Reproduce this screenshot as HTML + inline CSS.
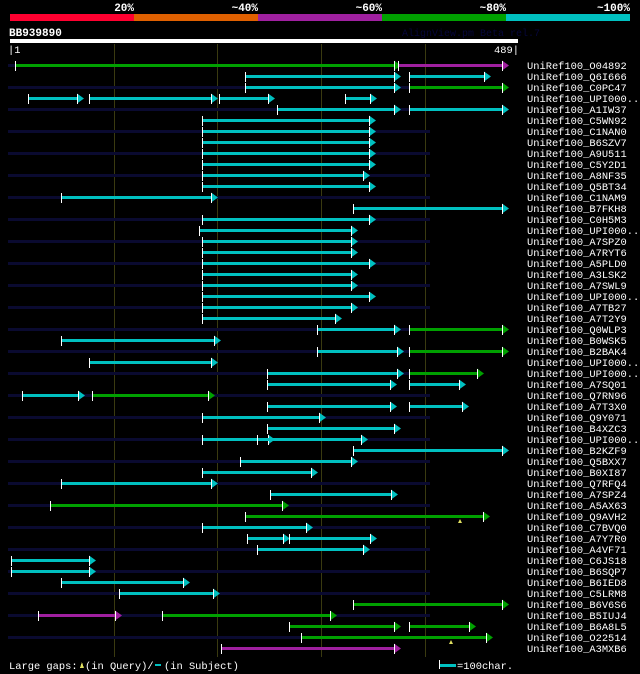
<!DOCTYPE html>
<html><head><meta charset="utf-8"><style>
html,body{margin:0;padding:0;background:#000;width:640px;height:674px;overflow:hidden}
svg{display:block}
text{font-family:"Liberation Mono",monospace;fill:#fff}
</style></head><body>
<svg id="chart" width="640" height="674" xmlns="http://www.w3.org/2000/svg" shape-rendering="crispEdges">
<g>
<rect x="10" y="14" width="124" height="7" fill="#ff0030"/>
<rect x="134" y="14" width="124" height="7" fill="#e06000"/>
<rect x="258" y="14" width="124" height="7" fill="#a020a0"/>
<rect x="382" y="14" width="124" height="7" fill="#00a000"/>
<rect x="506" y="14" width="124" height="7" fill="#00c0c0"/>
<text x="134" y="11" text-anchor="end" font-size="11" font-weight="bold">20%</text>
<text x="258" y="11" text-anchor="end" font-size="11" font-weight="bold">~40%</text>
<text x="382" y="11" text-anchor="end" font-size="11" font-weight="bold">~60%</text>
<text x="506" y="11" text-anchor="end" font-size="11" font-weight="bold">~80%</text>
<text x="630" y="11" text-anchor="end" font-size="11" font-weight="bold">~100%</text>
</g>
<text x="9" y="36" font-size="11" font-weight="bold">BB939890</text>
<text x="402" y="36" font-size="10" style="fill:#06063a">AlignView.pm Beta rel.7</text>
<rect x="10" y="39" width="508" height="4" fill="#fff"/>
<text x="8" y="53" font-size="10.4">|1</text>
<text x="519" y="53" font-size="10.4" text-anchor="end">489|</text>
<g id="grid"></g>
<g id="rows"></g>
<g id="segs"></g>
<g>
<text x="9" y="669" font-size="10.4">Large gaps:</text>
<polygon points="80,668 82,662 84,668" fill="#e0e060"/>
<text x="85" y="669" font-size="10.4">(in Query)/</text>
<rect x="155" y="664" width="6" height="2" fill="#00c0c0"/>
<text x="164" y="669" font-size="10.4">(in Subject)</text>
<rect x="439" y="660" width="1" height="9" fill="#fff"/>
<rect x="440" y="664" width="16" height="3" fill="#00c0c0"/>
<text x="457" y="669" font-size="10.4">=100char.</text>
</g>
</svg>
<script>
const rowNames=["UniRef100_O04892","UniRef100_Q6I666","UniRef100_C0PC47","UniRef100_UPI000..","UniRef100_A1IW37","UniRef100_C5WN92","UniRef100_C1NAN0","UniRef100_B6SZV7","UniRef100_A9U511","UniRef100_C5Y2D1","UniRef100_A8NF35","UniRef100_Q5BT34","UniRef100_C1NAM9","UniRef100_B7FKH8","UniRef100_C0H5M3","UniRef100_UPI000..","UniRef100_A7SPZ0","UniRef100_A7RYT6","UniRef100_A5PLD0","UniRef100_A3LSK2","UniRef100_A7SWL9","UniRef100_UPI000..","UniRef100_A7TB27","UniRef100_A7T2Y9","UniRef100_Q0WLP3","UniRef100_B0WSK5","UniRef100_B2BAK4","UniRef100_UPI000..","UniRef100_UPI000..","UniRef100_A7SQ01","UniRef100_Q7RN96","UniRef100_A7T3X0","UniRef100_Q9Y071","UniRef100_B4XZC3","UniRef100_UPI000..","UniRef100_B2KZF9","UniRef100_Q5BXX7","UniRef100_B0XI87","UniRef100_Q7RFQ4","UniRef100_A7SPZ4","UniRef100_A5AX63","UniRef100_Q9AVH2","UniRef100_C7BVQ0","UniRef100_A7Y7R0","UniRef100_A4VF71","UniRef100_C6JS18","UniRef100_B6SQP7","UniRef100_B6IED8","UniRef100_C5LRM8","UniRef100_B6V6S6","UniRef100_B5IUJ4","UniRef100_B6A8L5","UniRef100_O22514","UniRef100_A3MXB6"];
const gridTicks=[100,200,300,400];
const segRow=[0,0,1,1,2,2,3,3,3,3,4,4,5,6,7,8,9,10,11,12,13,14,15,16,17,18,19,20,21,22,23,24,24,25,26,26,27,28,28,29,29,30,30,31,31,32,33,34,34,35,36,37,38,39,40,41,42,43,43,44,45,46,47,48,49,50,50,51,51,52,53];
const segStart=[5,374,227,385,227,385,17,76,202,323,257,385,185,185,185,185,185,185,185,49,331,185,182,185,185,185,185,185,185,185,185,296,385,49,296,385,76,248,385,248,385,12,79,248,385,185,248,185,238,331,222,185,49,251,39,227,185,229,269,238,1,1,49,105,331,27,147,269,385,281,203];
const segEnd=[370,474,370,457,370,474,65,194,249,347,370,474,346,346,346,346,346,340,346,194,474,346,329,329,329,346,329,329,346,329,313,370,474,197,373,474,194,373,450,366,433,66,191,366,436,298,370,249,338,474,329,290,194,367,262,456,285,263,347,340,76,76,167,196,474,101,309,370,443,459,370];
const segColor=["g","p","c","c","c","g","c","c","c","c","c","c","c","c","c","c","c","c","c","c","c","c","c","c","c","c","c","c","c","c","c","c","g","c","c","g","c","c","g","c","c","c","g","c","c","c","c","c","c","c","c","c","c","c","g","g","c","c","c","c","c","c","c","c","g","p","g","g","g","g","p"];
const gapPos=[434,425];
const gapRow=[41,52];
const colors={c:"#00c0c0",g:"#00a000",p:"#a020a0"};
const NS="http://www.w3.org/2000/svg";
const xS=p=>Math.round(10+p*1.037);
const yS=r=>65+r*11;
function mk(t,a,parent){const e=document.createElementNS(NS,t);for(const k in a)e.setAttribute(k,a[k]);parent.appendChild(e);return e;}
const grid=document.getElementById('grid'),rows=document.getElementById('rows'),segs=document.getElementById('segs');
gridTicks.forEach(t=>{
  const l=mk('rect',{x:xS(t),y:44,width:1,height:613,fill:'#3a3a10'},grid);
  
  
});
rowNames.forEach((n,i)=>{
  if(i%2===0){
    const b=mk('rect',{x:8,y:yS(i)-1,width:422,height:3,fill:'#0a0a30'},rows);
    
    
  }
  const t=mk('text',{x:527,y:yS(i)+4,'font-size':'10.4'},rows);
  t.textContent=n;
  
  
});
segRow.forEach((r,i)=>{
  const x1=xS(segStart[i]),x2=xS(segEnd[i]),y=yS(r),c=colors[segColor[i]];
  const g=mk('g',{},segs);
  
  
  mk('rect',{x:x1,y:y-1,width:x2-x1,height:3,fill:c},g);
  mk('rect',{x:x1,y:y-4,width:1,height:10,fill:'#fff'},g);
  mk('polygon',{points:`${x2},${y-4.5} ${x2+7},${y+0.5} ${x2},${y+5.5}`,fill:c,'shape-rendering':'auto'},g);
  mk('rect',{x:x2,y:y-4,width:1,height:10,fill:'#fff'},g);
});
gapPos.forEach((p,i)=>{
  const m=mk('polygon',{points:`${xS(p)-2},${yS(gapRow[i])+7} ${xS(p)},${yS(gapRow[i])+3} ${xS(p)+2},${yS(gapRow[i])+7}`,fill:'#e0e060'},segs);
  
  
});
</script>
</body></html>
